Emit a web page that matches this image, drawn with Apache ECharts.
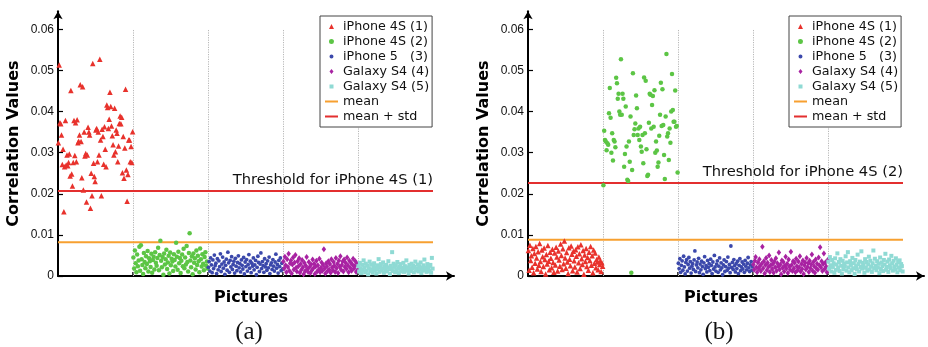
<!DOCTYPE html>
<html><head><meta charset="utf-8">
<script src="https://cdn.jsdelivr.net/npm/echarts@6/dist/echarts.min.js"></script>
<style>html,body{margin:0;padding:0;background:#fff}#c{width:928px;height:347px}</style>
</head><body><div id="c"></div><script>
const seriesNames = ['iPhone 4S (1)','iPhone 4S (2)','iPhone 5   (3)','Galaxy S4 (4)','Galaxy S4 (5)'];
const lineNames = ['mean','mean + std'];
const yTicks = [0,0.01,0.02,0.03,0.04,0.05,0.06];
const yTickLabels = ['0','0.01','0.02','0.03','0.04','0.05','0.06'];
const groupBoundaries = [100,200,300,400];
const panelLabels = ['(a)','(b)'];
const thresholdLabels = ['Threshold for iPhone 4S (1)','Threshold for iPhone 4S (2)'];
const meanValues = [0.0082, 0.0088];
const thresholdValues = [0.0207, 0.0228];

const aRed = [0.0324,0.0513,0.0373,0.037,0.0343,0.0271,0.0308,0.0156,0.0266,0.0378,
0.027,0.0294,0.0268,0.0276,0.0297,0.0243,0.0451,0.0248,0.0219,0.0276,
0.0378,0.0293,0.0373,0.0278,0.038,0.0324,0.0328,0.0343,0.0465,0.0327,
0.0239,0.046,0.0209,0.035,0.0292,0.0298,0.018,0.0294,0.0362,0.035,
0.0343,0.0165,0.025,0.0195,0.0517,0.0274,0.0242,0.023,0.0355,0.0359,
0.0278,0.035,0.0294,0.0527,0.0331,0.0195,0.0357,0.0339,0.0272,0.0363,
0.0308,0.0266,0.0416,0.041,0.0359,0.0381,0.0447,0.0412,0.0365,0.0341,
0.0319,0.0294,0.0408,0.0302,0.0355,0.0347,0.0278,0.0316,0.0371,0.0389,
0.037,0.0386,0.0251,0.0339,0.0238,0.0311,0.0454,0.0258,0.0182,0.0247,
0.0331,0.0331,0.0278,0.0315,0.0276,0.0351];
const aGreen = [0.0045,0.0018,0.0062,0.0031,0.0009,0.0052,0.0024,0.0038,0.0071,0.0013,
0.0075,0.0041,0.0027,0.0005,0.0056,0.0034,0.0019,0.0048,0.0029,0.0061,
0.0011,0.0043,0.0036,0.0022,0.0054,0.0008,0.0039,0.0047,0.0016,0.0058,
0.0032,0.0025,0.0044,0.0069,0.0014,0.0051,0.0086,0.0037,0.0021,0.0046,
0.0003,0.0055,0.0028,0.0041,0.0064,0.0017,0.0033,0.0049,0.0006,0.0057,
0.0026,0.0042,0.0035,0.0012,0.0053,0.0039,0.0023,0.0081,0.0047,0.0015,
0.0059,0.0031,0.0044,0.0007,0.0037,0.0052,0.0024,0.0066,0.0019,0.0045,
0.0028,0.0073,0.0034,0.0011,0.0056,0.0104,0.0038,0.0021,0.0048,0.0004,
0.0055,0.0032,0.0043,0.0016,0.0062,0.0027,0.0049,0.0036,0.0009,0.0067,
0.0041,0.0023,0.0053,0.0030,0.0014,0.0046,0.0058,0.0025,0.0035,0.0018];
const aBlue = [0.0021,0.0035,0.0012,0.0044,0.0027,0.0008,0.0039,0.0018,0.0051,0.0025,
0.0031,0.0006,0.0042,0.0015,0.0037,0.0023,0.0054,0.0011,0.0029,0.0046,
0.0019,0.0034,0.0004,0.0026,0.0041,0.0014,0.0058,0.0032,0.0009,0.0038,
0.0022,0.0047,0.0016,0.0028,0.0036,0.0007,0.0043,0.0024,0.0013,0.0033,
0.0049,0.0020,0.0030,0.0010,0.0039,0.0026,0.0017,0.0045,0.0005,0.0034,
0.0023,0.0040,0.0012,0.0028,0.0052,0.0019,0.0036,0.0008,0.0031,0.0024,
0.0044,0.0015,0.0027,0.0038,0.0003,0.0021,0.0048,0.0033,0.0011,0.0029,
0.0056,0.0018,0.0035,0.0025,0.0009,0.0042,0.0022,0.0030,0.0014,0.0037,
0.0020,0.0046,0.0006,0.0027,0.0032,0.0016,0.0040,0.0024,0.0012,0.0034,
0.0053,0.0019,0.0028,0.0007,0.0038,0.0023,0.0044,0.0013,0.0031,0.0017];
const aMagenta = [0.0035,0.0018,0.0047,0.0026,0.0009,0.0041,0.0022,0.0054,0.0013,0.0031,
0.0038,0.0006,0.0028,0.0045,0.0016,0.0033,0.0051,0.0020,0.0011,0.0036,
0.0024,0.0043,0.0008,0.0029,0.0015,0.0039,0.0021,0.0004,0.0032,0.0012,
0.0025,0.0046,0.0017,0.0010,0.0034,0.0022,0.0007,0.0028,0.0014,0.0040,
0.0019,0.0030,0.0005,0.0023,0.0037,0.0011,0.0026,0.0015,0.0042,0.0009,
0.0020,0.0033,0.0013,0.0027,0.0065,0.0018,0.0006,0.0031,0.0024,0.0012,
0.0036,0.0016,0.0029,0.0008,0.0041,0.0021,0.0014,0.0034,0.0025,0.0010,
0.0044,0.0019,0.0030,0.0007,0.0038,0.0023,0.0048,0.0015,0.0027,0.0035,
0.0011,0.0040,0.0022,0.0032,0.0017,0.0045,0.0026,0.0009,0.0037,0.0020,
0.0033,0.0013,0.0028,0.0042,0.0018,0.0024,0.0036,0.0010,0.0030,0.0015];
const aCyan = [0.0024,0.0011,0.0032,0.0018,0.0007,0.0027,0.0015,0.0038,0.0021,0.0009,
0.0030,0.0013,0.0025,0.0004,0.0019,0.0035,0.0012,0.0028,0.0016,0.0008,
0.0023,0.0031,0.0014,0.0020,0.0006,0.0026,0.0017,0.0041,0.0010,0.0022,
0.0029,0.0013,0.0019,0.0033,0.0008,0.0024,0.0015,0.0027,0.0011,0.0021,
0.0036,0.0016,0.0005,0.0025,0.0019,0.0058,0.0012,0.0030,0.0022,0.0009,
0.0026,0.0014,0.0034,0.0018,0.0007,0.0023,0.0029,0.0011,0.0020,0.0016,
0.0032,0.0010,0.0024,0.0015,0.0038,0.0013,0.0021,0.0006,0.0027,0.0017,
0.0012,0.0030,0.0019,0.0025,0.0009,0.0022,0.0035,0.0014,0.0018,0.0028,
0.0011,0.0024,0.0016,0.0033,0.0007,0.0021,0.0013,0.0026,0.0040,0.0015,
0.0020,0.0010,0.0029,0.0017,0.0023,0.0012,0.0027,0.0008,0.0044,0.0018];

const bRed = [0.0062,0.0014,0.0075,0.0038,0.0049,0.0021,0.0067,0.0008,0.0055,0.0031,
0.0072,0.0044,0.0017,0.0059,0.0026,0.0079,0.0035,0.0011,0.0063,0.0047,
0.0023,0.0068,0.0040,0.0005,0.0052,0.0029,0.0074,0.0036,0.0015,0.0058,
0.0043,0.0020,0.0065,0.0033,0.0009,0.0056,0.0027,0.0070,0.0046,0.0012,
0.0061,0.0039,0.0024,0.0078,0.0050,0.0016,0.0066,0.0030,0.0085,0.0044,
0.0019,0.0057,0.0034,0.0006,0.0069,0.0041,0.0025,0.0073,0.0053,0.0013,
0.0060,0.0037,0.0022,0.0064,0.0048,0.0010,0.0071,0.0032,0.0054,0.0018,
0.0076,0.0042,0.0028,0.0062,0.0004,0.0051,0.0035,0.0067,0.0023,0.0045,
0.0014,0.0058,0.0038,0.0072,0.0026,0.0049,0.0008,0.0063,0.0031,0.0056,
0.0020,0.0040,0.0034,0.0015,0.0046,0.0028,0.0037,0.0011,0.0032,0.0024];
const bGreen = [0.0221,0.0353,0.0331,0.0327,0.0306,0.0323,0.0319,0.0396,0.0457,0.0385,
0.030,0.0347,0.0281,0.0331,0.0327,0.0313,0.0482,0.0469,0.0431,0.0443,
0.04,0.0392,0.0527,0.0392,0.0443,0.0431,0.0266,0.0297,0.0412,0.0315,
0.0234,0.0231,0.0327,0.0278,0.0388,0.0008,0.0258,0.0493,0.0343,0.0357,
0.0371,0.0439,0.0408,0.0343,0.0359,0.0331,0.0363,0.0315,0.0302,0.0343,
0.0274,0.0483,0.0347,0.0475,0.0308,0.0243,0.0246,0.0373,0.0443,0.0441,
0.0359,0.0416,0.0438,0.0363,0.0452,0.030,0.0327,0.0305,0.0266,0.0276,
0.0341,0.0392,0.047,0.0365,0.0454,0.0367,0.0294,0.0236,0.0388,0.054,
0.0339,0.0347,0.0282,0.0359,0.0324,0.04,0.0491,0.0404,0.0375,0.0375,
0.0451,0.0363,0.0365,0.0252];
const bBlue = [0.0031,0.0018,0.0042,0.0009,0.0026,0.0037,0.0014,0.0048,0.0022,0.0005,
0.0033,0.0040,0.0012,0.0028,0.0045,0.0019,0.0035,0.0007,0.0024,0.0030,
0.0016,0.0039,0.0061,0.0011,0.0027,0.0034,0.0020,0.0043,0.0008,0.0029,
0.0015,0.0036,0.0023,0.0004,0.0032,0.0047,0.0018,0.0025,0.0010,0.0038,
0.0021,0.0030,0.0013,0.0041,0.0026,0.0006,0.0034,0.0017,0.0050,0.0022,
0.0012,0.0029,0.0037,0.0009,0.0024,0.0044,0.0015,0.0032,0.0020,0.0003,
0.0027,0.0039,0.0011,0.0023,0.0035,0.0014,0.0046,0.0019,0.0028,0.0008,
0.0073,0.0021,0.0033,0.0016,0.0040,0.0025,0.0010,0.0030,0.0018,0.0036,
0.0006,0.0026,0.0042,0.0013,0.0022,0.0034,0.0017,0.0029,0.0009,0.0038,
0.0024,0.0015,0.0031,0.0045,0.0020,0.0011,0.0027,0.0035,0.0014,0.0023];
const bMagenta = [0.0028,0.0015,0.0037,0.0046,0.0021,0.0009,0.0033,0.0018,0.0041,0.0025,
0.0012,0.0030,0.0071,0.0019,0.0036,0.0006,0.0027,0.0044,0.0014,0.0032,
0.0022,0.0050,0.0010,0.0026,0.0039,0.0017,0.0029,0.0008,0.0035,0.0021,
0.0043,0.0013,0.0031,0.0024,0.0057,0.0016,0.0028,0.0004,0.0038,0.0020,
0.0034,0.0011,0.0025,0.0047,0.0018,0.0030,0.0007,0.0040,0.0023,0.0015,
0.0059,0.0027,0.0012,0.0036,0.0019,0.0032,0.0009,0.0042,0.0024,0.0014,
0.0035,0.0021,0.0048,0.0011,0.0029,0.0017,0.0038,0.0005,0.0026,0.0033,
0.0016,0.0044,0.0022,0.0031,0.0010,0.0037,0.0019,0.0028,0.0052,0.0013,
0.0034,0.0024,0.0008,0.0040,0.0018,0.0030,0.0015,0.0045,0.0026,0.0070,
0.0021,0.0036,0.0012,0.0029,0.0055,0.0017,0.0033,0.0023,0.0009,0.0039];
const bCyan = [0.0035,0.0018,0.0046,0.0026,0.0011,0.0039,0.0022,0.0031,0.0008,0.0043,
0.0015,0.0028,0.0055,0.0020,0.0034,0.0012,0.0041,0.0025,0.0006,0.0037,
0.0017,0.0030,0.0023,0.0048,0.0013,0.0033,0.0058,0.0021,0.0009,0.0036,
0.0027,0.0014,0.0044,0.0019,0.0031,0.0005,0.0039,0.0024,0.0016,0.0052,
0.0029,0.0011,0.0035,0.0022,0.0060,0.0018,0.0032,0.0026,0.0008,0.0041,
0.0020,0.0034,0.0013,0.0028,0.0047,0.0016,0.0037,0.0023,0.0010,0.0031,
0.0062,0.0019,0.0042,0.0025,0.0014,0.0036,0.0021,0.0030,0.0007,0.0045,
0.0017,0.0033,0.0024,0.0012,0.0039,0.0028,0.0054,0.0015,0.0022,0.0035,
0.0010,0.0040,0.0026,0.0019,0.0049,0.0031,0.0013,0.0037,0.0023,0.0016,
0.0043,0.0027,0.0009,0.0034,0.0020,0.0038,0.0014,0.0029,0.0024,0.0011];

const panels = [[aRed,aGreen,aBlue,aMagenta,aCyan],[bRed,bGreen,bBlue,bMagenta,bCyan]];

const colors = ['#e8322c','#5cc545','#3b48ab','#a822a2','#8fdad4'];
const symbols = ['triangle','circle','circle','diamond','rect'];
const sizes = [5.5, 4.5, 3.8, [4.5,6], 4];
const legendIcons = [
  'path://M0,10 L5,0 L10,10 L0,10 Z M-4,-3 Z M14,13 Z',
  'path://M5,0 A5,5 0 1 1 4.99,0 Z M-3,-3 Z M13,13 Z',
  'path://M5,1 A4,4 0 1 1 4.99,1 Z M-3,-3 Z M13,13 Z',
  'path://M5,0 L9,5 L5,10 L1,5 Z M-3,-3 Z M13,13 Z',
  'path://M1,1 L9,1 L9,9 L1,9 Z M-3,-3 Z M13,13 Z'
];
const lineIcon = 'path://M0,3 L13,3 L13,5 L0,5 Z M0,0 Z M13,8 Z';
const meanColor = '#f7a030', thrColor = '#e32f2f';
const gridLefts = [58, 528];
const legendLefts = [320, 789];
const XMAX = 528, YMAX = 0.0644;

function toPoints(arr, g){ return arr.map((v,i)=>[g*100 + (i+0.5)*100/arr.length, v]); }
const fontSans = 'DejaVu Sans';

const grids=[], xAxes=[], yAxes=[], series=[], legends=[], graphics=[];
for (let p=0;p<2;p++){
  grids.push({left:gridLefts[p], top:11.2, width:396, height:264.8});
  xAxes.push({type:'value', gridIndex:p, min:0, max:XMAX,
    axisLine:{show:true, lineStyle:{color:'#000', width:2}, symbol:['none','arrow'], symbolSize:[7,8]},
    axisTick:{show:true, inside:true, length:4, customValues:groupBoundaries, lineStyle:{color:'#000', width:1.5}},
    axisLabel:{show:false}, splitLine:{show:false},
    name:'Pictures', nameLocation:'middle', nameGap:14,
    nameTextStyle:{fontFamily:fontSans, fontWeight:'bold', fontSize:16, color:'#000', padding:[0,10,0,0], verticalAlign:'top'}});
  yAxes.push({type:'value', gridIndex:p, min:0, max:YMAX, interval:0.01,
    axisLine:{show:true, lineStyle:{color:'#000', width:2}, symbol:['none','arrow'], symbolSize:[7,8]},
    axisTick:{show:true, inside:true, length:5, customValues:yTicks, lineStyle:{color:'#000', width:1.2}},
    axisLabel:{customValues:yTicks, margin:4, fontFamily:'Liberation Sans', fontSize:12, color:'#111',
      formatter:(v)=>{const i=yTicks.findIndex(t=>Math.abs(t-v)<1e-9); return i>=0?yTickLabels[i]:'';}},
    splitLine:{show:false},
    name:'Correlation Values', nameLocation:'middle', nameGap:36,
    nameTextStyle:{fontFamily:fontSans, fontWeight:'bold', fontSize:16, color:'#000'}});
  panels[p].forEach((arr,g)=>{
    const s = {type:'scatter', name:seriesNames[g], xAxisIndex:p, yAxisIndex:p,
      data:toPoints(arr,g), symbol:symbols[g], symbolSize:sizes[g],
      itemStyle:{color:colors[g], opacity:1}, z:3, silent:true};
    if (g===0){
      s.markLine = {silent:true, symbol:'none', animation:false, label:{show:false}, z:1,
        lineStyle:{color:'#b8b8b8', type:[1.2,1.2], width:1},
        data: groupBoundaries.map(b=>[{coord:[b,0]},{coord:[b,yTicks[yTicks.length-1]]}])};
    }
    series.push(s);
  });
  series.push({type:'line', name:lineNames[0], xAxisIndex:p, yAxisIndex:p, symbol:'none', silent:true,
    data:[[0,meanValues[p]],[500,meanValues[p]]], color:meanColor, lineStyle:{color:meanColor,width:2}, z:2});
  series.push({type:'line', name:lineNames[1], xAxisIndex:p, yAxisIndex:p, symbol:'none', silent:true,
    data:[], color:thrColor, lineStyle:{color:thrColor,width:2},
    markLine:{silent:true, symbol:'none', animation:false, z:2,
      lineStyle:{color:thrColor, width:2, type:'solid'},
      label:{show:true, position:'insideEndTop', distance:[0,3], formatter:thresholdLabels[p],
        fontFamily:fontSans, fontSize:14.7, color:'#111'},
      data:[[{coord:[0,thresholdValues[p]]},{coord:[500,thresholdValues[p]]}]]}});
  legends.push({show:true, orient:'vertical', left:legendLefts[p], top:16, selectedMode:false,
    symbolKeepAspect:true,
    data:[...seriesNames.map((n,i)=>({name:n, icon:legendIcons[i]})), ...lineNames.map(n=>({name:n, icon:lineIcon}))],
    itemWidth:13, itemHeight:8, itemGap:0,
    padding:[3,3,3,5], borderColor:'#444', borderWidth:1, backgroundColor:'#fff',
    textStyle:{fontFamily:fontSans, fontSize:12.7, color:'#111', lineHeight:15}});
  graphics.push({type:'text', x:[249,719][p], y:332, style:{text:panelLabels[p], font:'25px "Liberation Serif"', fill:'#111', textAlign:'center', textVerticalAlign:'middle'}});
}

const chart = echarts.init(document.getElementById('c'), null, {renderer:'canvas'});
chart.setOption({animation:false, backgroundColor:'#fff', grid:grids, xAxis:xAxes, yAxis:yAxes, series, legend:legends, graphic:graphics});
</script></body></html>
